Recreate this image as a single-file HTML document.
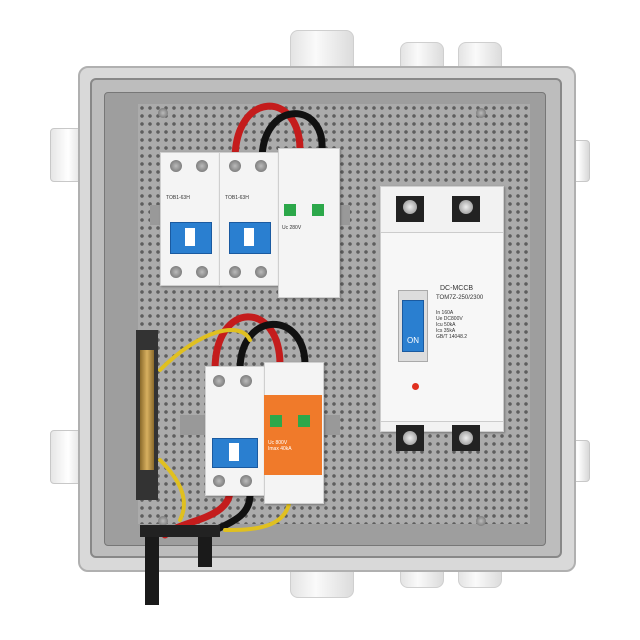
<!DOCTYPE html>
<html><head><meta charset="utf-8"><style>
body{margin:0;width:640px;height:640px;background:#fff;position:relative;overflow:hidden;font-family:"Liberation Sans",sans-serif}
.a{position:absolute}
.gland{position:absolute;background:linear-gradient(90deg,#e4e4e4,#fafafa 40%,#dcdcdc);border-radius:8px;border:1px solid #cfcfcf}
.hinge{position:absolute;background:linear-gradient(90deg,#e6e6e6,#fff,#d8d8d8);border:1px solid #c8c8c8;border-radius:4px}
.mod{position:absolute;background:#f4f4f4;border:1px solid #cfcfcf;box-shadow:1px 1px 2px rgba(0,0,0,.3)}
.term{position:absolute;width:12px;height:12px;border-radius:50%;background:radial-gradient(#bbb,#666);}
.tog{position:absolute;background:#2a7fd0;border:1px solid #1a5aa0}
.t{position:absolute;font-size:5px;color:#333}
.scr{position:absolute;width:14px;height:14px;border-radius:50%;background:radial-gradient(#eee,#888)}
</style></head><body>
<div class="gland" style="left:290px;top:30px;width:62px;height:42px"></div>
<div class="gland" style="left:400px;top:42px;width:42px;height:34px"></div>
<div class="gland" style="left:458px;top:42px;width:42px;height:34px"></div>
<div class="gland" style="left:290px;top:556px;width:62px;height:40px"></div>
<div class="gland" style="left:400px;top:556px;width:42px;height:30px"></div>
<div class="gland" style="left:458px;top:556px;width:42px;height:30px"></div>
<div class="hinge" style="left:50px;top:128px;width:34px;height:52px"></div>
<div class="hinge" style="left:50px;top:430px;width:34px;height:52px"></div>
<div class="hinge" style="left:566px;top:140px;width:22px;height:40px"></div>
<div class="hinge" style="left:566px;top:440px;width:22px;height:40px"></div>
<div class="a" style="left:78px;top:66px;width:494px;height:502px;background:#d9d9d9;border:2px solid #b0b0b0;border-radius:10px"></div>
<div class="a" style="left:90px;top:78px;width:468px;height:476px;background:#bdbdbd;border:2px solid #888;border-radius:6px"></div>
<div class="a" style="left:104px;top:92px;width:440px;height:452px;background:#9e9e9e;border-radius:4px;border:1px solid #777"></div>
<div class="a" style="left:138px;top:104px;width:392px;height:420px;background-color:#ababab;background-image:radial-gradient(circle,#5e5e5e 1.6px,transparent 2px);background-size:8px 8px"></div>
<div class="term" style="left:158px;top:108px;width:10px;height:10px"></div>
<div class="term" style="left:476px;top:108px;width:10px;height:10px"></div>
<div class="term" style="left:158px;top:516px;width:10px;height:10px"></div>
<div class="term" style="left:476px;top:516px;width:10px;height:10px"></div>
<svg class="a" style="left:0;top:0" width="640" height="640">
<g fill="none" stroke-linecap="round">
<path d="M235 160 C235 90 300 90 300 150" stroke="#c41c1c" stroke-width="7"/>
<path d="M262 160 C262 100 325 100 322 150" stroke="#111" stroke-width="7"/>
<path d="M215 370 C215 300 280 300 280 365" stroke="#c41c1c" stroke-width="7"/>
<path d="M240 370 C240 310 305 310 305 365" stroke="#111" stroke-width="7"/>
<path d="M160 370 C200 330 240 320 250 340" stroke="#e0c020" stroke-width="4"/>
<path d="M160 460 C180 480 190 500 180 520" stroke="#e0c020" stroke-width="4"/>
<path d="M230 490 C230 520 180 520 165 535" stroke="#c41c1c" stroke-width="7"/>
<path d="M250 495 C250 525 210 525 205 540" stroke="#111" stroke-width="7"/>
<path d="M290 495 C290 530 250 530 225 530" stroke="#e0c020" stroke-width="4"/>
</g>
<rect x="145" y="535" width="14" height="70" fill="#1a1a1a"/>
<rect x="198" y="535" width="14" height="32" fill="#1a1a1a"/>
<rect x="140" y="525" width="80" height="12" fill="#222"/>
</svg>
<div class="a" style="left:150px;top:205px;width:200px;height:20px;background:#999"></div>
<div class="a" style="left:180px;top:415px;width:160px;height:20px;background:#999"></div>
<div class="mod" style="left:160px;top:152px;width:58px;height:132px"></div>
<div class="mod" style="left:219px;top:152px;width:58px;height:132px"></div>
<div class="tog" style="left:170px;top:222px;width:40px;height:30px"></div>
<div class="tog" style="left:229px;top:222px;width:40px;height:30px"></div>
<div class="a" style="left:185px;top:228px;width:10px;height:18px;background:#fff"></div>
<div class="a" style="left:244px;top:228px;width:10px;height:18px;background:#fff"></div>
<div class="t" style="left:166px;top:195px">TOB1-63H</div><div class="t" style="left:225px;top:195px">TOB1-63H</div>
<div class="term" style="left:170px;top:160px"></div><div class="term" style="left:196px;top:160px"></div>
<div class="term" style="left:229px;top:160px"></div><div class="term" style="left:255px;top:160px"></div>
<div class="term" style="left:170px;top:266px"></div><div class="term" style="left:196px;top:266px"></div>
<div class="term" style="left:229px;top:266px"></div><div class="term" style="left:255px;top:266px"></div>
<div class="mod" style="left:278px;top:148px;width:60px;height:148px"></div>
<div class="a" style="left:284px;top:204px;width:12px;height:12px;background:#2ca84a"></div>
<div class="a" style="left:312px;top:204px;width:12px;height:12px;background:#2ca84a"></div>
<div class="t" style="left:282px;top:225px">Uc 280V</div>
<div class="mod" style="left:380px;top:186px;width:122px;height:244px;background:#f2f2f2"></div>
<div class="a" style="left:396px;top:196px;width:28px;height:26px;background:#222"></div>
<div class="a" style="left:452px;top:196px;width:28px;height:26px;background:#222"></div>
<div class="a" style="left:396px;top:425px;width:28px;height:26px;background:#222"></div>
<div class="a" style="left:452px;top:425px;width:28px;height:26px;background:#222"></div>
<div class="scr" style="left:403px;top:200px"></div><div class="scr" style="left:459px;top:200px"></div>
<div class="scr" style="left:403px;top:431px"></div><div class="scr" style="left:459px;top:431px"></div>
<div class="a" style="left:380px;top:232px;width:122px;height:188px;background:#f7f7f7;border:1px solid #ccc"></div>
<div class="a" style="left:398px;top:290px;width:28px;height:70px;background:#ddd;border:1px solid #aaa"></div>
<div class="tog" style="left:402px;top:300px;width:20px;height:50px;color:#fff;font-size:8px;text-align:center;line-height:80px">ON</div>
<div class="t" style="left:440px;top:285px;font-size:7px">DC-MCCB</div>
<div class="t" style="left:436px;top:295px;font-size:6px">TOM7Z-250/2300</div>
<div class="t" style="left:436px;top:310px">In 160A<br>Ue DC800V<br>Icu 50kA<br>Ics 35kA<br>GB/T 14048.2</div>
<div class="a" style="left:412px;top:383px;width:7px;height:7px;border-radius:50%;background:#e03020"></div>
<div class="a" style="left:136px;top:330px;width:22px;height:170px;background:#333"></div>
<div class="a" style="left:140px;top:350px;width:14px;height:120px;background:linear-gradient(90deg,#8a6a2a,#d8b060,#8a6a2a)"></div>
<div class="mod" style="left:205px;top:366px;width:58px;height:128px"></div>
<div class="tog" style="left:212px;top:438px;width:44px;height:28px"></div>
<div class="a" style="left:229px;top:443px;width:10px;height:18px;background:#fff"></div>
<div class="term" style="left:213px;top:375px"></div><div class="term" style="left:240px;top:375px"></div>
<div class="term" style="left:213px;top:475px"></div><div class="term" style="left:240px;top:475px"></div>
<div class="mod" style="left:264px;top:362px;width:58px;height:140px"></div>
<div class="a" style="left:264px;top:395px;width:58px;height:80px;background:#f07a2a"></div>
<div class="a" style="left:270px;top:415px;width:12px;height:12px;background:#2ca84a"></div>
<div class="a" style="left:298px;top:415px;width:12px;height:12px;background:#2ca84a"></div>
<div class="t" style="left:268px;top:440px;color:#fff">Uc 800V<br>Imax 40kA</div>
</body></html>
